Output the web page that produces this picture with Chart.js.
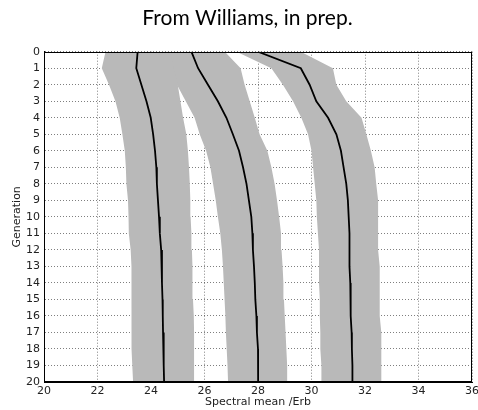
<!DOCTYPE html>
<html><head><meta charset="utf-8">
<script src="https://cdn.jsdelivr.net/npm/chart.js@4/dist/chart.umd.min.js"></script>
<style>html,body{margin:0;padding:0;background:#fff}</style>
</head><body>
<canvas id="c" width="478" height="410" style="width:478px;height:410px;display:block"></canvas>
<script>
const generations = [0,1,2,3,4,5,6,7,8,9,10,11,12,13,14,15,16,17,18,19,20];

const line1   = [23.50,23.45,23.64,23.83,23.99,24.08,24.15,24.20,24.22,24.26,24.30,24.33,24.38,24.41,24.41,24.43,24.44,24.45,24.47,24.48,24.49];
const band1Lo = [22.30,22.16,22.43,22.67,22.83,22.93,23.02,23.06,23.08,23.14,23.16,23.17,23.24,23.27,23.27,23.27,23.27,23.27,23.28,23.30,23.33];
const band1Hi = [24.70,24.85,25.00,25.10,25.20,25.32,25.38,25.42,25.45,25.47,25.48,25.51,25.53,25.55,25.55,25.57,25.60,25.61,25.61,25.61,25.61];

const line2   = [25.51,25.76,26.13,26.50,26.82,27.06,27.29,27.44,27.57,27.66,27.75,27.79,27.81,27.85,27.88,27.90,27.94,27.96,28.00,28.00,28.01];
const band2Lo = [24.40,24.70,24.97,25.30,25.63,25.82,26.06,26.22,26.32,26.42,26.50,26.59,26.65,26.69,26.72,26.75,26.78,26.80,26.83,26.86,26.88];
const band2Hi = [26.76,27.35,27.50,27.69,27.88,28.06,28.35,28.50,28.62,28.71,28.79,28.86,28.88,28.92,28.95,28.97,29.00,29.03,29.06,29.09,29.12];

const line3   = [28.00,29.60,29.93,30.18,30.62,30.93,31.10,31.20,31.30,31.36,31.39,31.42,31.41,31.43,31.45,31.46,31.47,31.50,31.51,31.53,31.53];
const band3Lo = [27.20,28.50,28.93,29.31,29.62,29.87,30.00,30.06,30.12,30.18,30.20,30.24,30.28,30.28,30.28,30.31,30.31,30.33,30.33,30.37,30.37];
const band3Hi = [29.60,30.80,30.93,31.30,31.87,32.05,32.22,32.36,32.42,32.49,32.49,32.49,32.49,32.55,32.55,32.55,32.55,32.61,32.61,32.61,32.61];

const xTickValues = [20,22,24,26,28,30,32,34,36];
const yTickValues = generations;

const titleText = 'From Williams, in prep.';
const xTitle = 'Spectral mean /Erb';
const yTitle = 'Generation';

const BAND = '#b9b9b9';

function linePoints(vals){ return generations.map((g,i)=>({x:vals[i], y:g})); }
function bandPoints(lo, hi){
  const pts = generations.map((g,i)=>({x:lo[i], y:g}));
  for (let i = generations.length-1; i >= 0; i--) pts.push({x:hi[i], y:generations[i]});
  return pts;
}
function lineDs(vals){
  return {data: linePoints(vals), showLine:true, borderColor:'#000', borderWidth:1.8,
          pointRadius:0, pointHoverRadius:0, fill:false, tension:0, indexAxis:'y'};
}
function bandDs(lo, hi){
  return {data: bandPoints(lo, hi), showLine:true, borderWidth:0, borderColor:'rgba(0,0,0,0)',
          backgroundColor:BAND, pointRadius:0, pointHoverRadius:0, fill:'shape', tension:0, indexAxis:'y'};
}

const frame = {
  id:'frame',
  afterLayout(chart){
    if (chart.titleBlock) { chart.titleBlock.left = 17; }
  },
  afterDraw(chart){
    const {ctx, chartArea:a} = chart;
    ctx.save();
    ctx.strokeStyle = '#000'; ctx.lineWidth = 1;
    ctx.strokeRect(Math.round(a.left)+0.5, Math.round(a.top)+0.5, Math.round(a.right-a.left)-1, Math.round(a.bottom-a.top)-1);
    ctx.restore();
  }
};

const tickFont = {family:'DejaVu Sans', size:11};

new Chart(document.getElementById('c'), {
  type:'scatter',
  data:{ datasets:[
    lineDs(line1), lineDs(line2), lineDs(line3),
    bandDs(band1Lo, band1Hi), bandDs(band2Lo, band2Hi), bandDs(band3Lo, band3Hi)
  ]},
  options:{
    responsive:false, animation:false, events:[],
    layout:{padding:{left:0, right:0, top:0, bottom:0}},
    plugins:{
      legend:{display:false}, tooltip:{enabled:false},
      title:{display:true, text:titleText, color:'#000',
             font:{family:'Lato', size:21, weight:'normal', lineHeight:1.2}, padding:{top:6, bottom:20.5}}
    },
    scales:{
      x:{type:'linear', min:20, max:36, z:1,
         afterBuildTicks(s){ s.ticks = xTickValues.map(v=>({value:v})); },
         afterFit(s){ s.height = 28; s.paddingLeft = 0; s.paddingRight = 6; },
         grid:{color:'rgba(0,0,0,0.5)', lineWidth:1, drawTicks:false},
         border:{display:true, color:'#000', width:1, dash:[1,2]},
         ticks:{font:tickFont, color:'#222', padding:3, maxRotation:0, autoSkip:false},
         title:{display:true, text:xTitle, font:tickFont, color:'#222', padding:{top:0, bottom:1}}},
      y:{type:'linear', min:0, max:20, reverse:true, z:1,
         afterBuildTicks(s){ s.ticks = yTickValues.map(v=>({value:v})); },
         afterFit(s){ s.width = 44; },
         grid:{color:'rgba(0,0,0,0.5)', lineWidth:1, drawTicks:false},
         border:{display:true, color:'#000', width:1, dash:[1,2]},
         ticks:{font:tickFont, color:'#222', padding:4, autoSkip:false},
         title:{display:true, text:yTitle, font:tickFont, color:'#222', padding:{top:11, bottom:0}}}
    }
  },
  plugins:[frame]
});
</script>
</body></html>
